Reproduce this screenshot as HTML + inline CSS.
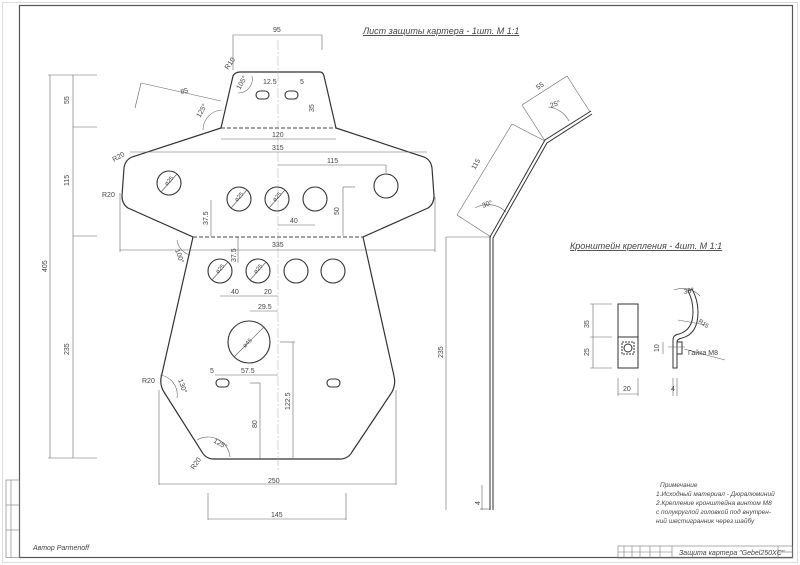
<!DOCTYPE html>
<html><head><meta charset="utf-8"><style>
html,body{margin:0;padding:0;background:#fff;}
svg{display:block;}
text{font-family:"Liberation Sans","DejaVu Sans",sans-serif;fill:#444;}
</style></head><body>
<svg width="800" height="565" viewBox="0 0 800 565" xmlns="http://www.w3.org/2000/svg">
<rect x="0" y="0" width="800" height="565" fill="#fff"/>
<rect x="2.5" y="2.5" width="795" height="560" fill="none" stroke="#ddd" stroke-width="1"/>
<rect x="19.5" y="5.5" width="773" height="552" fill="none" stroke="#555" stroke-width="1.2"/>
<g stroke="#777" stroke-width="0.6" fill="none">
<rect x="6" y="480" width="13.5" height="77.5"/>
<line x1="6" y1="505" x2="19.5" y2="505"/><line x1="6" y1="530" x2="19.5" y2="530"/>
<line x1="11" y1="480" x2="11" y2="557.5"/>
<rect x="618" y="546" width="174.5" height="12"/>
<line x1="624" y1="546" x2="624" y2="558"/><line x1="632" y1="546" x2="632" y2="558"/>
<line x1="640" y1="546" x2="640" y2="558"/><line x1="650" y1="546" x2="650" y2="558"/>
<line x1="660" y1="546" x2="660" y2="558"/><line x1="672" y1="546" x2="672" y2="558"/>
<line x1="778" y1="546" x2="778" y2="558"/><line x1="618" y1="552" x2="672" y2="552"/>
<line x1="778" y1="552" x2="792" y2="552"/>
</g>
<text x="679" y="555" font-size="7" font-style="italic">Защита картера "Gebel250XC"</text>
<text x="33" y="550" font-size="7" font-style="italic">Автор Parmenoff</text>

<text x="363" y="34" font-size="9" font-style="italic" text-decoration="underline">Лист защиты картера - 1шт. М 1:1</text>
<text x="570" y="249" font-size="9" font-style="italic" text-decoration="underline">Кронштейн крепления - 4шт. М 1:1</text>

<path d="M240,72 L320,72 Q323,72 324,76 L336,128 L424,157 Q431,160 432,168 L434,196 Q434,204 428,208 L363,237 L394,376 Q396,384 392,392 L352,452 Q348,459 340,459 L214,459 Q206,459 202,452 L164,392 Q160,386 161,378 L193,237 L128,208 Q122,204 122,196 L124,168 Q125,160 132,157 L221,128 L233,76 Q235,72 240,72 Z" fill="none" stroke="#333" stroke-width="1.2"/>
<line x1="221" y1="128" x2="336" y2="128" stroke="#444" stroke-width="1" stroke-dasharray="4,2"/>
<line x1="193" y1="237" x2="363" y2="237" stroke="#444" stroke-width="1" stroke-dasharray="4,2"/>
<line x1="278" y1="40" x2="278" y2="470" stroke="#aaa" stroke-width="0.5" stroke-dasharray="10,2,2,2"/>
<g fill="none" stroke="#333" stroke-width="1.1">
<circle cx="169" cy="183" r="12"/><circle cx="239" cy="199" r="12"/><circle cx="277" cy="199" r="12"/>
<circle cx="315" cy="199" r="12"/><circle cx="386" cy="186" r="12"/>
<circle cx="220" cy="271" r="12"/><circle cx="258" cy="271" r="12"/><circle cx="296" cy="271" r="12"/><circle cx="333" cy="271" r="12"/>
<circle cx="249" cy="342" r="21"/>
<rect x="256" y="91" width="13" height="8" rx="4"/><rect x="285" y="91" width="13" height="8" rx="4"/>
<rect x="216" y="379" width="13" height="8" rx="4"/><rect x="327" y="379" width="13" height="8" rx="4"/>
</g>
<g stroke="#555" stroke-width="0.6">
<line x1="161" y1="192" x2="177" y2="174"/><line x1="231" y1="208" x2="247" y2="190"/>
<line x1="269" y1="208" x2="285" y2="190"/><line x1="212" y1="280" x2="228" y2="262"/>
<line x1="250" y1="280" x2="266" y2="262"/><line x1="234" y1="357" x2="264" y2="327"/>
</g>
<g font-size="6" fill="#444">
<text transform="translate(167,186) rotate(-48)">ø25</text>
<text transform="translate(237,202) rotate(-48)">ø25</text>
<text transform="translate(275,202) rotate(-48)">ø25</text>
<text transform="translate(218,274) rotate(-48)">ø25</text>
<text transform="translate(256,274) rotate(-48)">ø25</text>
<text transform="translate(245,348) rotate(-45)">ø45</text>
</g>
<g stroke="#666" stroke-width="0.6" fill="none">
<line x1="50" y1="75" x2="50" y2="458"/><line x1="73" y1="75" x2="73" y2="458"/>
<line x1="48" y1="75" x2="97" y2="75"/><line x1="48" y1="458" x2="97" y2="458"/>
<line x1="73" y1="127" x2="97" y2="127"/><line x1="73" y1="236" x2="97" y2="236"/>
<line x1="233" y1="35" x2="322" y2="35"/><line x1="233" y1="35" x2="233" y2="70"/><line x1="322" y1="35" x2="322" y2="50"/>
<line x1="221" y1="139" x2="336" y2="139"/>
<line x1="130" y1="152" x2="427" y2="152"/>
<line x1="278" y1="165" x2="386" y2="165"/><line x1="386" y1="165" x2="386" y2="173"/>
<line x1="343" y1="187" x2="343" y2="236"/><line x1="343" y1="187" x2="355" y2="187"/>
<line x1="278" y1="225" x2="315" y2="225"/>
<line x1="211" y1="200" x2="211" y2="236"/>
<line x1="120" y1="193" x2="120" y2="252"/><line x1="435" y1="197" x2="435" y2="252"/>
<line x1="120" y1="250" x2="435" y2="250"/>
<line x1="238" y1="237" x2="238" y2="263"/>
<line x1="220" y1="296" x2="278" y2="296"/>
<line x1="250" y1="311" x2="278" y2="311"/>
<line x1="215" y1="375" x2="278" y2="375"/>
<line x1="280" y1="342" x2="295" y2="342"/><line x1="293" y1="342" x2="293" y2="459"/>
<line x1="250" y1="383" x2="260" y2="383"/><line x1="260" y1="383" x2="260" y2="459"/>
<line x1="159" y1="390" x2="159" y2="485"/><line x1="396" y1="390" x2="396" y2="485"/>
<line x1="159" y1="484" x2="396" y2="484"/>
<line x1="208" y1="493" x2="208" y2="520"/><line x1="346" y1="493" x2="346" y2="520"/>
<line x1="208" y1="519" x2="346" y2="519"/>
<line x1="141" y1="83" x2="221" y2="101"/><line x1="141" y1="83" x2="135" y2="108"/>
<path d="M203,130 A20,20 0 0 1 222,110"/>
<path d="M177,240 A18,18 0 0 0 190,255"/>
<path d="M160,375 A20,20 0 0 1 177,398"/>
<path d="M197,440 A22,22 0 0 1 230,457"/>
<path d="M238,93 A14,14 0 0 0 252,76"/>
<line x1="446" y1="237" x2="491" y2="237"/><line x1="446" y1="237" x2="446" y2="510"/>
<line x1="457" y1="215" x2="512" y2="124"/><line x1="457" y1="215" x2="491" y2="237"/>
<line x1="512" y1="124" x2="545" y2="141"/>
<line x1="522" y1="105" x2="567" y2="76"/><line x1="522" y1="105" x2="545" y2="141"/><line x1="567" y1="76" x2="590" y2="112"/>
<path d="M475,208 A26,26 0 0 1 506,212"/>
<path d="M548,107 A26,26 0 0 1 569,121"/>
<line x1="482" y1="485" x2="482" y2="510"/><line x1="480" y1="509" x2="490" y2="509"/>
</g>
<g fill="none" stroke="#333" stroke-width="1">
<polyline points="490,510 490,237 545,140 591,111"/>
<polyline points="493,510 493,238 547,143 592,114"/>
</g>
<g fill="none" stroke="#333" stroke-width="1">
<rect x="618" y="304" width="20" height="64"/>
<line x1="618" y1="337" x2="638" y2="337"/>
<rect x="622" y="342" width="12" height="12" stroke-dasharray="2,1"/>
<circle cx="628" cy="348" r="4"/>
<path d="M673,368 L673,340 Q673,335 679,334 Q693,330 693,312 Q693,300 688,291 L692,289 Q698,300 698,312 Q698,334 682,338 Q677,339 677,342 L677,368 Z"/>
<rect x="677" y="342" width="5" height="12"/>
</g>
<g stroke="#666" stroke-width="0.6" fill="none">
<line x1="590" y1="304" x2="612" y2="304"/><line x1="590" y1="337" x2="612" y2="337"/><line x1="590" y1="368" x2="612" y2="368"/>
<line x1="593" y1="304" x2="593" y2="368"/>
<line x1="618" y1="378" x2="618" y2="396"/><line x1="638" y1="378" x2="638" y2="396"/><line x1="618" y1="394" x2="638" y2="394"/>
<line x1="673" y1="378" x2="673" y2="396"/><line x1="677" y1="378" x2="677" y2="396"/>
<line x1="663" y1="342" x2="663" y2="354"/>
<line x1="668" y1="347" x2="685" y2="347"/><line x1="684" y1="349" x2="725" y2="360"/>
<line x1="678" y1="320" x2="706" y2="325"/>
<path d="M674,290 A24,24 0 0 1 700,296"/>
</g>
<g font-size="7">
<text x="273" y="32">95</text>
<text x="181" y="94" transform="rotate(-12 181 94)">85</text>
<text x="263" y="84">12.5</text><text x="300" y="84">5</text>
<text x="272" y="137">120</text><text x="272" y="150">315</text>
<text x="327" y="163">115</text><text x="290" y="223">40</text>
<text x="272" y="247">335</text>
<text x="231" y="294">40</text><text x="264" y="294">20</text>
<text x="258" y="309">29.5</text><text x="241" y="373">57.5</text><text x="210" y="373">5</text>
<text x="268" y="483">250</text><text x="271" y="517">145</text>
<text x="114" y="162" transform="rotate(-30 114 162)">R20</text>
<text x="102" y="197">R20</text>
<text x="142" y="383">R20</text>
<text x="194" y="470" transform="rotate(-55 194 470)">R20</text>
<text x="228" y="70" transform="rotate(-55 228 70)">R10</text>
<text x="688" y="355">Гайка М8</text>
<text x="698" y="322" transform="rotate(35 698 322)" font-size="6">R15</text>
<text x="623" y="391">20</text><text x="671" y="391">4</text>
<text x="684" y="294" transform="rotate(-10 684 294)">35°</text>
<text x="483" y="208" transform="rotate(-20 483 208)">30°</text>
<text x="551" y="108" transform="rotate(-20 551 108)">25°</text>
<text x="538" y="90" transform="rotate(-35 538 90)">55</text>
<text x="475" y="170" transform="rotate(-60 475 170)">115</text>
</g>
<g font-size="7">
<text transform="translate(69,104) rotate(-90)">55</text>
<text transform="translate(69,186) rotate(-90)">115</text>
<text transform="translate(69,355) rotate(-90)">235</text>
<text transform="translate(47,272) rotate(-90)">405</text>
<text transform="translate(443,358) rotate(-90)">235</text>
<text transform="translate(339,215) rotate(-90)">50</text>
<text transform="translate(208,225) rotate(-90)">37.5</text>
<text transform="translate(236,262) rotate(-90)">37.5</text>
<text transform="translate(290,410) rotate(-90)">122.5</text>
<text transform="translate(257,428) rotate(-90)">80</text>
<text transform="translate(314,112) rotate(-90)">35</text>
<text transform="translate(589,328) rotate(-90)">35</text>
<text transform="translate(589,356) rotate(-90)">25</text>
<text transform="translate(659,352) rotate(-90)">10</text>
<text transform="translate(480,505) rotate(-90)">4</text>
<text transform="translate(175,250) rotate(70)">100°</text>
<text transform="translate(178,380) rotate(70)">130°</text>
<text transform="translate(213,442) rotate(30)">125°</text>
<text transform="translate(200,118) rotate(-60)">125°</text>
<text transform="translate(240,90) rotate(-60)">105°</text>
</g>
<g font-size="6.5" font-style="italic">
<text x="660" y="487">Примечание</text>
<text x="656" y="496">1.Исходный материал - Дюралюминий</text>
<text x="656" y="505">2.Крепление кронштейна винтом М8</text>
<text x="656" y="514">с полукруглой головкой под внутрен-</text>
<text x="656" y="523">ний шестигранник через шайбу</text>
</g>
</svg>
</body></html>
